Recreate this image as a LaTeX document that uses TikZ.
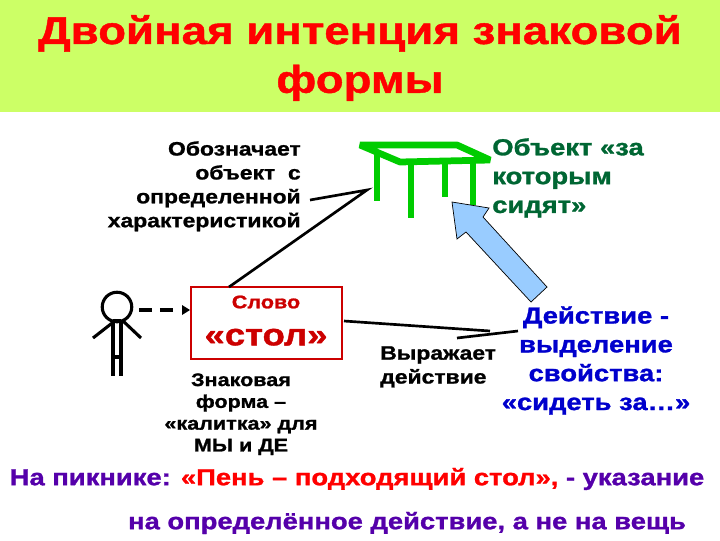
\documentclass[tikz,border=0pt]{standalone}
\usepackage{fontspec}
\setmainfont[BoldFeatures={FakeStretch=1.18,FakeBold=1.2}]{Liberation Sans}
\usepackage{xcolor}
\usetikzlibrary{positioning}
\definecolor{headfill}{HTML}{CCFF66}
\definecolor{titlered}{HTML}{FF0000}
\definecolor{tablegreen}{HTML}{00CC00}
\definecolor{objgreen}{HTML}{006633}
\definecolor{wordred}{HTML}{CC0000}
\definecolor{actblue}{HTML}{0000CC}
\definecolor{arrowblue}{HTML}{99CCFF}
\definecolor{notepurple}{HTML}{5500AA}
\tikzset{
  txt/.style={font=\bfseries\fontsize{13.8}{17}\selectfont, inner sep=0pt, align=center},
  leg/.style={tablegreen, line width=4.8pt},
  stick/.style={black, line width=2.2pt},
  pointer/.style={black, line width=1.9pt},
}

\begin{document}
\begin{tikzpicture}[x=0.025cm, y=-0.025cm]
\useasboundingbox (0,0) rectangle (720,540);

\fill[headfill] (0,0) rectangle (720,112);
\node[txt, titlered, font=\bfseries\fontsize{27.5}{34.7}\selectfont] (title) at (360,58) {Двойная интенция знаковой\\формы};

% table
\coordinate (T_1) at (360,145);
\coordinate (T_2) at (457,145);
\coordinate (T_3) at (490,160);
\coordinate (T_4) at (400,162);
\draw[leg, line join=bevel] (T_1) -- (T_2) -- (T_3) -- (T_4) -- cycle;
\draw[leg] (377,152) -- (377,201);
\draw[leg] (411,162) -- (411,218);
\draw[leg] (445,158) -- (445,197);
\draw[leg] (473,162) -- (473,205);

% person
\node[circle, draw, line width=2.2pt, minimum size=21pt, inner sep=0pt] (head) at (117,307) {};
\draw[stick] (113,321) -- (113,376) (121,321) -- (121,376) (113,357) -- (121,357) (113,321) -- (121,321);
\draw[stick] (116,320) -- (93,338) (122,320) -- (141,338);

% word box
\node[draw=wordred, line width=1.5pt, minimum width=108pt, minimum height=51pt, inner sep=0pt] (word) at (266.5,323) {};
\node[txt, wordred, font=\bfseries\fontsize{13}{14}\selectfont] (slovo) at (266,302) {Слово};
\node[txt, wordred, font=\bfseries\fontsize{22}{24}\selectfont, below=14pt of slovo] (stol) {«стол»};

\coordinate (P_1) at (139,310);
\draw[black, line width=2.6pt, dash pattern=on 9.2pt off 5.7pt] (P_1) -- (173,310);
\fill (182,305) -- (190,310) -- (182,315) -- cycle;

% texts
\node[txt, anchor=north east, align=right] (denotes) at (301,141) {Обозначает\\объект\ \ с\\определенной\\характеристикой};
\node[txt, objgreen, anchor=north west, align=left, font=\bfseries\fontsize{16.5}{20.5}\selectfont] (object) at (492,138) {Объект «за\\которым\\сидят»};
\node[txt, anchor=north, font=\bfseries\fontsize{13}{15.5}\selectfont] (form) at (241,373) {Знаковая\\форма –\\«калитка» для\\МЫ и ДЕ};
\node[txt, anchor=north west, align=left] (express) at (380,346) {Выражает\\действие};
\node[txt, actblue, font=\bfseries\fontsize{16.5}{20.5}\selectfont, anchor=north] (action) at (596,306) {Действие -\\выделение\\свойства:\\«сидеть за…»};
\node[txt, notepurple, font=\bfseries\fontsize{16.5}{18}\selectfont] (note1) at (357,479) {На пикнике: \textcolor{titlered}{«Пень – подходящий стол»,} - указание};
\node[txt, notepurple, font=\bfseries\fontsize{16.5}{18}\selectfont] (note2) at (407,523) {на определённое действие, а не на вещь};

% connectors
\coordinate (C_1) at (310,200);
\coordinate (C_2) at (367,190);
\coordinate (C_3) at (229,287);
\draw[pointer] (C_1) -- (C_2) -- (C_3);
\coordinate (C_4) at (344,321);
\coordinate (C_5) at (490,331);
\coordinate (C_6) at (457,338);
\coordinate (C_7) at (518,331);
\draw[pointer] (C_4) -- (C_5);
\draw[pointer] (C_6) -- (C_7);

% big arrow
\draw[black, fill=arrowblue, line width=0.5pt] (452,202) -- (489,208) -- (483,217) -- (547,287) -- (531,302) -- (466,232) -- (457,239) -- cycle;

\end{tikzpicture}
\end{document}
